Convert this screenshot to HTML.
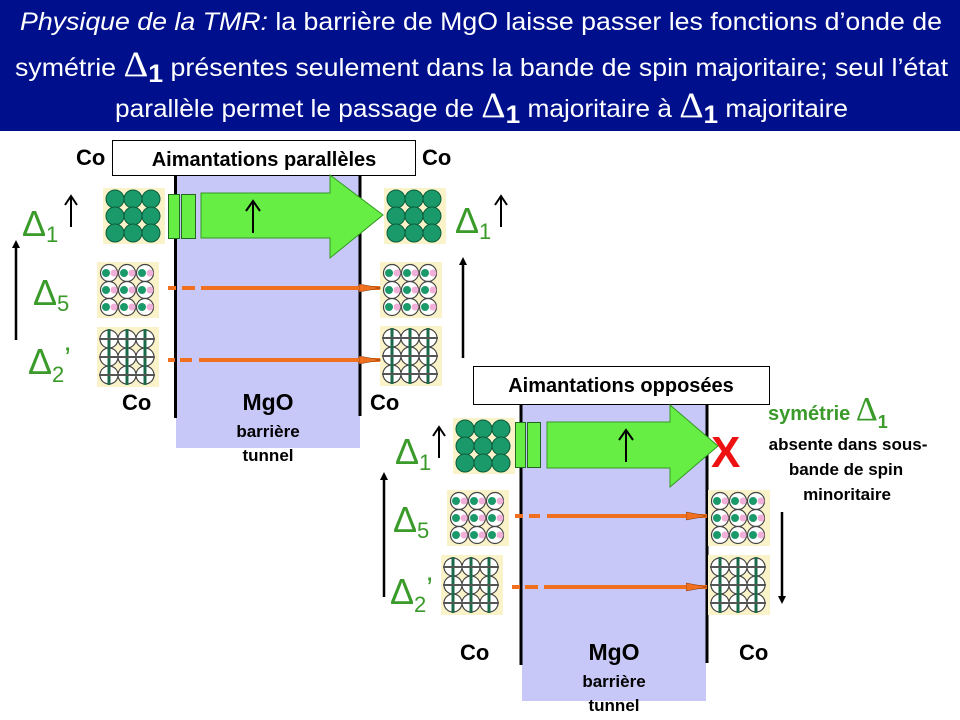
<!DOCTYPE html>
<html><head><meta charset="utf-8"><style>
html,body{margin:0;padding:0;background:#fff;}
svg{display:block;}
text{font-family:"Liberation Sans",sans-serif;}
</style></head><body>
<svg width="960" height="720" viewBox="0 0 960 720" xmlns="http://www.w3.org/2000/svg">
<defs>
<marker id="oh" markerWidth="22" markerHeight="10" refX="21" refY="5" orient="auto" markerUnits="userSpaceOnUse"><path d="M0,1 L22,5 L0,9 Z" fill="#f07020" stroke="#7a3a10" stroke-width="0.6"/></marker>
<g id="t1">
<rect x="0" y="0" width="62" height="56" fill="#faf2c8"/>
<g fill="#1a9a6a" stroke="#0b5a3a" stroke-width="1">
<circle cx="12" cy="11" r="9"/><circle cx="30" cy="11" r="9"/><circle cx="48" cy="11" r="9"/>
<circle cx="12" cy="28" r="9"/><circle cx="30" cy="28" r="9"/><circle cx="48" cy="28" r="9"/>
<circle cx="12" cy="45" r="9"/><circle cx="30" cy="45" r="9"/><circle cx="48" cy="45" r="9"/>
</g></g>
<g id="t5">
<rect x="0" y="0" width="62" height="56" fill="#faf2c8"/>
<g fill="#fff" stroke="#444" stroke-width="1.2">
<circle cx="12" cy="11" r="8.5"/><circle cx="30" cy="11" r="8.5"/><circle cx="48" cy="11" r="8.5"/>
<circle cx="12" cy="28" r="8.5"/><circle cx="30" cy="28" r="8.5"/><circle cx="48" cy="28" r="8.5"/>
<circle cx="12" cy="45" r="8.5"/><circle cx="30" cy="45" r="8.5"/><circle cx="48" cy="45" r="8.5"/>
</g>
<g fill="#1a9a6a"><circle cx="9" cy="11" r="4"/><circle cx="27" cy="11" r="4"/><circle cx="45" cy="11" r="4"/><circle cx="9" cy="28" r="4"/><circle cx="27" cy="28" r="4"/><circle cx="45" cy="28" r="4"/><circle cx="9" cy="45" r="4"/><circle cx="27" cy="45" r="4"/><circle cx="45" cy="45" r="4"/></g>
<g fill="#f0b0d8"><circle cx="17" cy="11" r="3.5"/><circle cx="35" cy="11" r="3.5"/><circle cx="53" cy="11" r="3.5"/><circle cx="17" cy="28" r="3.5"/><circle cx="35" cy="28" r="3.5"/><circle cx="53" cy="28" r="3.5"/><circle cx="17" cy="45" r="3.5"/><circle cx="35" cy="45" r="3.5"/><circle cx="53" cy="45" r="3.5"/></g>
</g>
<g id="t2">
<rect x="0" y="0" width="62" height="60" fill="#faf2c8"/>
<g fill="#fff" stroke="#444" stroke-width="1.2">
<circle cx="12" cy="12" r="9"/><circle cx="30" cy="12" r="9"/><circle cx="48" cy="12" r="9"/>
<circle cx="12" cy="30" r="9"/><circle cx="30" cy="30" r="9"/><circle cx="48" cy="30" r="9"/>
<circle cx="12" cy="48" r="9"/><circle cx="30" cy="48" r="9"/><circle cx="48" cy="48" r="9"/>
</g>
<g stroke="#1a6a4a" stroke-width="3"><line x1="12" y1="2" x2="12" y2="58"/><line x1="30" y1="2" x2="30" y2="58"/><line x1="48" y1="2" x2="48" y2="58"/></g>
<g stroke="#555" stroke-width="2"><line x1="2" y1="12" x2="58" y2="12"/><line x1="2" y1="30" x2="58" y2="30"/><line x1="2" y1="48" x2="58" y2="48"/></g>
</g>
</defs>

<rect x="0" y="0" width="960" height="131" fill="#00108c"/>
<g fill="#fff" font-size="25">
<text x="20" y="30" textLength="922" lengthAdjust="spacingAndGlyphs"><tspan font-style="italic">Physique de la TMR:</tspan> la barrière de MgO laisse passer les fonctions d’onde de</text>
<text x="15" y="76" textLength="933" lengthAdjust="spacingAndGlyphs">symétrie <tspan font-family="Liberation Serif" font-size="36">Δ</tspan><tspan font-weight="bold" dy="6">1</tspan><tspan dy="-6"> présentes seulement dans la bande de spin majoritaire; seul l’état</tspan></text>
<text x="115" y="117" textLength="733" lengthAdjust="spacingAndGlyphs">parallèle permet le passage de <tspan font-family="Liberation Serif" font-size="36">Δ</tspan><tspan font-weight="bold" dy="6">1</tspan><tspan dy="-6"> majoritaire à </tspan><tspan font-family="Liberation Serif" font-size="36">Δ</tspan><tspan font-weight="bold" dy="6">1</tspan><tspan dy="-6"> majoritaire</tspan></text>
</g>

<rect x="176" y="172" width="184" height="276" fill="#c8c8f8"/>
<line x1="175.5" y1="172" x2="175.5" y2="418" stroke="#000" stroke-width="3"/>
<line x1="360" y1="172" x2="360" y2="416" stroke="#000" stroke-width="3"/>
<rect x="112.5" y="140.5" width="303" height="35" fill="#fff" stroke="#000"/>
<text x="264" y="166" font-size="20" font-weight="bold" text-anchor="middle">Aimantations parallèles</text>
<text x="76" y="165" font-size="22" font-weight="bold">Co</text>
<text x="422" y="165" font-size="22" font-weight="bold">Co</text>

<use href="#t1" x="103" y="188"/>
<use href="#t5" x="97" y="262"/>
<use href="#t2" x="97" y="327"/>
<use href="#t1" x="384" y="188"/>
<use href="#t5" x="380" y="262"/>
<use href="#t2" x="380" y="326"/>

<rect x="168.5" y="194.5" width="11" height="44" fill="#66ee44" stroke="#226622"/>
<rect x="181.5" y="194.5" width="14" height="44" fill="#66ee44" stroke="#226622"/>
<path d="M201,193 H330 V175 L383,215 L330,258 V238 H201 Z" fill="#66ee44" stroke="#339922" stroke-width="1"/>
<line x1="253" y1="233" x2="253" y2="203" stroke="#000" stroke-width="2"/><path d="M246,211 L253,201 L260,211" fill="none" stroke="#000" stroke-width="2"/>

<g stroke="#f07020" stroke-width="4"><line x1="168" y1="288" x2="176" y2="288"/><line x1="182" y1="288" x2="195" y2="288"/><line x1="168" y1="360" x2="175" y2="360"/><line x1="180" y1="360" x2="192" y2="360"/></g>
<line x1="201" y1="288" x2="380" y2="288" stroke="#f07020" stroke-width="4" marker-end="url(#oh)"/>
<line x1="199" y1="360" x2="380" y2="360" stroke="#f07020" stroke-width="4" marker-end="url(#oh)"/>

<g fill="#3a9a2a" font-family="Liberation Serif">
<text x="22" y="236" font-size="36">Δ<tspan font-family="Liberation Sans" font-size="22" dy="6">1</tspan></text>
<text x="33" y="305" font-size="36">Δ<tspan font-family="Liberation Sans" font-size="22" dy="6">5</tspan></text>
<text x="28" y="374" font-size="36">Δ<tspan font-family="Liberation Sans" font-size="22" dy="8">2</tspan><tspan font-size="30" dy="-14">’</tspan></text>
<text x="455" y="233" font-size="36">Δ<tspan font-family="Liberation Sans" font-size="22" dy="6">1</tspan></text>
</g>
<g stroke="#000" stroke-width="2" fill="none">
<line x1="71" y1="227" x2="71" y2="197"/><path d="M65,205 L71,196 L77,205"/>
<line x1="501" y1="227" x2="501" y2="197"/><path d="M495,205 L501,196 L507,205"/>
</g>
<line x1="16" y1="340" x2="16" y2="246" stroke="#000" stroke-width="2.5"/><path d="M12,248 L16,240 L20,248Z"/>
<line x1="463" y1="358" x2="463" y2="263" stroke="#000" stroke-width="2.5"/><path d="M459,265 L463,257 L467,265Z"/>
<text x="122" y="410" font-size="22" font-weight="bold">Co</text>
<text x="370" y="410" font-size="22" font-weight="bold">Co</text>
<text x="268" y="410" font-size="23" font-weight="bold" text-anchor="middle">MgO</text>
<text x="268" y="437" font-size="17" font-weight="bold" text-anchor="middle">barrière</text>
<text x="268" y="461" font-size="17" font-weight="bold" text-anchor="middle">tunnel</text>

<rect x="522" y="405" width="184" height="296" fill="#c8c8f8"/>
<line x1="521" y1="403" x2="521" y2="665" stroke="#000" stroke-width="3"/>
<line x1="707" y1="403" x2="707" y2="663" stroke="#000" stroke-width="3"/>
<rect x="473.5" y="366.5" width="296" height="38" fill="#fff" stroke="#000"/>
<text x="621" y="392" font-size="20" font-weight="bold" text-anchor="middle">Aimantations opposées</text>

<use href="#t1" x="453" y="418"/>
<use href="#t5" x="447" y="490"/>
<use href="#t2" x="441" y="555"/>
<use href="#t5" x="708" y="490"/>
<use href="#t2" x="708" y="555"/>

<rect x="515.5" y="422.5" width="10" height="45" fill="#66ee44" stroke="#226622"/>
<rect x="527.5" y="422.5" width="13" height="45" fill="#66ee44" stroke="#226622"/>
<path d="M547,422 H670 V405 L718,446 L670,487 V468 H547 Z" fill="#66ee44" stroke="#339922" stroke-width="1"/>
<line x1="626" y1="462" x2="626" y2="432" stroke="#000" stroke-width="2"/><path d="M619,440 L626,430 L633,440" fill="none" stroke="#000" stroke-width="2"/>
<text x="711" y="467" font-size="44" font-weight="bold" fill="#ee1111">X</text>

<g stroke="#f07020" stroke-width="4"><line x1="515" y1="516" x2="523" y2="516"/><line x1="529" y1="516" x2="540" y2="516"/><line x1="512" y1="587" x2="520" y2="587"/><line x1="525" y1="587" x2="538" y2="587"/></g>
<line x1="547" y1="516" x2="707" y2="516" stroke="#f07020" stroke-width="4" marker-end="url(#oh)"/>
<line x1="544" y1="587" x2="707" y2="587" stroke="#f07020" stroke-width="4" marker-end="url(#oh)"/>

<g fill="#3a9a2a" font-family="Liberation Serif">
<text x="395" y="464" font-size="36">Δ<tspan font-family="Liberation Sans" font-size="22" dy="6">1</tspan></text>
<text x="393" y="532" font-size="36">Δ<tspan font-family="Liberation Sans" font-size="22" dy="6">5</tspan></text>
<text x="390" y="604" font-size="36">Δ<tspan font-family="Liberation Sans" font-size="22" dy="8">2</tspan><tspan font-size="30" dy="-14">’</tspan></text>
</g>
<g stroke="#000" stroke-width="2" fill="none">
<line x1="439" y1="458" x2="439" y2="428"/><path d="M433,436 L439,427 L445,436"/>
</g>
<line x1="384" y1="597" x2="384" y2="478" stroke="#000" stroke-width="2.5"/><path d="M380,480 L384,472 L388,480Z"/>
<line x1="782" y1="512" x2="782" y2="598" stroke="#000" stroke-width="2.5"/><path d="M778,596 L782,604 L786,596Z"/>

<text x="768" y="420" font-size="20" font-weight="bold" fill="#3a9a2a">symétrie <tspan font-family="Liberation Serif" font-weight="normal" font-size="34">Δ</tspan><tspan font-size="18" dy="8">1</tspan></text>
<g font-size="17" font-weight="bold" text-anchor="middle">
<text x="848" y="450">absente dans sous-</text>
<text x="846" y="475">bande de spin</text>
<text x="847" y="500">minoritaire</text>
</g>

<text x="460" y="660" font-size="22" font-weight="bold">Co</text>
<text x="739" y="660" font-size="22" font-weight="bold">Co</text>
<text x="614" y="660" font-size="23" font-weight="bold" text-anchor="middle">MgO</text>
<text x="614" y="687" font-size="17" font-weight="bold" text-anchor="middle">barrière</text>
<text x="614" y="711" font-size="17" font-weight="bold" text-anchor="middle">tunnel</text>
</svg>
</body></html>
